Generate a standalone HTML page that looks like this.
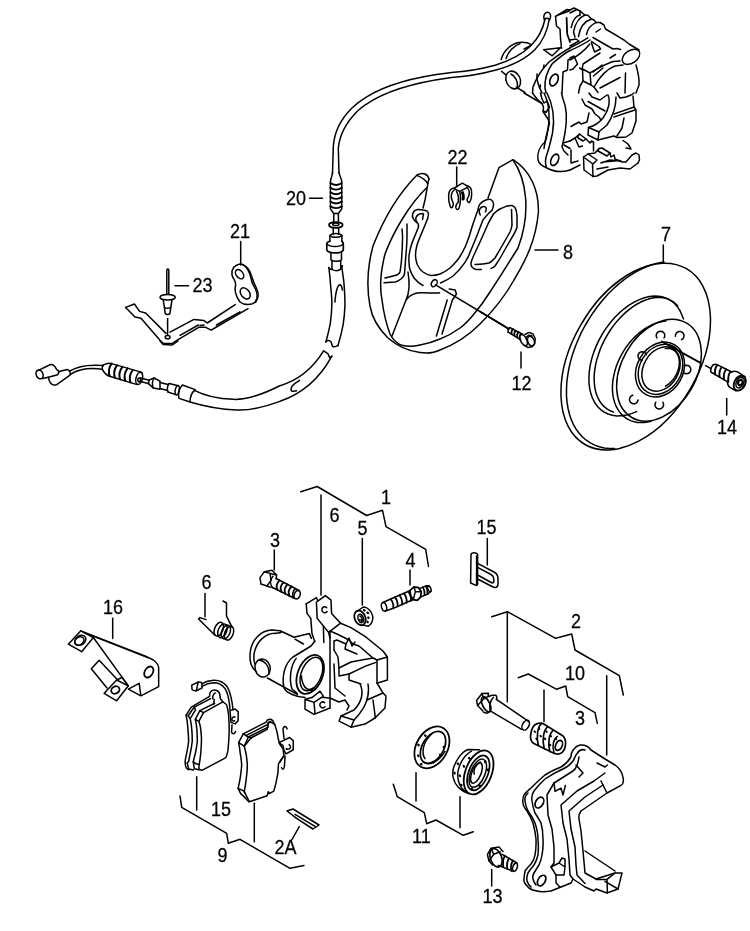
<!DOCTYPE html>
<html>
<head>
<meta charset="utf-8">
<title>Brake parts diagram</title>
<style>
html,body{margin:0;padding:0;background:#fff;}
svg{display:block;}
.d path,.d ellipse,.d line,.d polyline,.d circle,.d rect{fill:none;stroke:#000;stroke-width:1.5;stroke-linecap:round;stroke-linejoin:round;vector-effect:non-scaling-stroke;}
.d .w{fill:#fff;}
.t text{font-family:"Liberation Sans",sans-serif;font-size:18px;fill:#000;stroke:#000;stroke-width:0.25px;}
</style>
</head>
<body>
<svg width="750" height="931" viewBox="0 0 750 931">
<rect x="0" y="0" width="750" height="931" fill="#fff"/>

<!-- LABELS -->
<g class="t" style="opacity:0.999">
<text transform="translate(286 205) scale(1 1.09)">20</text>
<text transform="translate(447.5 163.5) scale(1 1.09)">22</text>
<text transform="translate(230 237.5) scale(1 1.09)">21</text>
<text transform="translate(192.5 292) scale(1 1.09)">23</text>
<text transform="translate(563 258.5) scale(1 1.09)">8</text>
<text transform="translate(511.5 389.5) scale(1 1.09)">12</text>
<text transform="translate(661 241) scale(1 1.09)">7</text>
<text transform="translate(717 433.5) scale(1 1.09)">14</text>
<text transform="translate(381 503.5) scale(1 1.09)">1</text>
<text transform="translate(329.5 522) scale(1 1.09)">6</text>
<text transform="translate(357.5 534.5) scale(1 1.09)">5</text>
<text transform="translate(270 547) scale(1 1.09)">3</text>
<text transform="translate(405.5 567) scale(1 1.09)">4</text>
<text transform="translate(103 614) scale(1 1.09)">16</text>
<text transform="translate(201.5 589) scale(1 1.09)">6</text>
<text transform="translate(211 816) scale(1 1.09)">15</text>
<text transform="translate(217.5 862) scale(1 1.09)">9</text>
<text transform="translate(274.5 854) scale(1 1.09)">2A</text>
<text transform="translate(476.5 534) scale(1 1.09)">15</text>
<text transform="translate(571 628) scale(1 1.09)">2</text>
<text transform="translate(565 679.5) scale(1 1.09)">10</text>
<text transform="translate(575 724.5) scale(1 1.09)">3</text>
<text transform="translate(412 843) scale(1 1.09)">11</text>
<text transform="translate(482.5 903) scale(1 1.09)">13</text>
</g>

<!-- LEADERS AND BRACKETS -->
<g class="d" id="leaders">
<path d="M309.5,198.3H322.5"/>
<path d="M456.7,167V187"/>
<path d="M240.7,241.5V265"/>
<path d="M175,285.7H188.5"/>
<path d="M535,250H558"/>
<path d="M521,352V368"/>
<path d="M663.3,245V262"/>
<path d="M726.7,398.5V415"/>
<path d="M362.3,538.5V605"/>
<path d="M274.3,550V570"/>
<path d="M410,570V585"/>
<path d="M321,495V595"/>
<path d="M300.8,491.7L317.2,486.5L366.6,515.5L382.5,510.3L386,526.7L425.7,549.3L428.5,566.5"/>
<path d="M112.7,618.3V638.5"/>
<path d="M205,593.5V616.7"/>
<path d="M180,796L181.7,807.3L226.7,833.3L228.3,843.3L240,839.3L290,868.3L304,865.5"/>
<path d="M196.7,776.7V810"/>
<path d="M254.3,803.3V841.7"/>
<path d="M299.3,826.7L291.7,840"/>
<path d="M487.3,538.5V565"/>
<path d="M491.7,616.7L507.3,611.7L555.7,638.3L571.7,634L575,650L619.3,675.7L623.3,695"/>
<path d="M507.3,613.3V701.7"/>
<path d="M606.7,675.7V755"/>
<path d="M518.3,677.7L528.3,674L556.7,689.3L565.7,686L567.7,696.7L595,712.7L597.3,723.3"/>
<path d="M544,690V721.7"/>
<path d="M491.7,869.5V886"/>
<path d="M393.3,784.3L397.3,796.7L424.3,812.7L426.7,823.7L436,820L463.3,835.3L473.3,831.7"/>
<path d="M416,772.7V801"/>
<path d="M460,796.7V827.7"/>
</g>

<!-- PARTS -->
<!-- cable upper run (source coords) -->
<g class="d">
<path d="M545.2,18.5C541,38 529,55 495,65.3C470,72 456,72 450,72.7C410,77.3 373,87.3 351.7,108.3C339,121 334,135 333.3,146.7L332.5,173.3"/>
<path d="M549.3,19.5C545.5,42 533,60 495,70.3C470,77 456,77 450,77.7C413,82.7 378,92 357.3,111.3C344.7,124 339.3,137.3 338.3,148.3L339,173.3"/>
<path d="M544.2,19.6C543,16 544.5,12.8 547,12.2C549.6,12 551,14.5 550.5,17C550.3,18.2 550,19 549.5,19.8"/><path d="M544.7,19C546,18.2 548,18.2 549.5,19.6"/>
</g>
<!-- ferrule 20 and fitting: origin (300,165) 7.76x -->
<g class="d" transform="translate(300,165) scale(0.128866)">
<path d="M252,60C250,90 238,105 236,128V340L262,376H298L324,340V128C322,105 308,90 304,60"/>
<path d="M236,140C260,160 300,160 324,140M236,176C260,196 300,196 324,176M236,212C260,232 300,232 324,212M236,248C260,268 300,268 324,248M236,284C260,304 300,304 324,284M236,320C260,340 300,340 324,320" style="stroke-width:1.9"/>
<path d="M262,376V446M298,376V446"/>
<ellipse cx="278" cy="466" rx="53" ry="22" style="stroke-width:1.7"/>
<ellipse cx="278" cy="460" rx="24" ry="10"/>
<path d="M258,488V540M300,488V540"/>
<path d="M232,545C250,528 306,528 325,545V592M232,545V592"/>
<path d="M232,548C255,566 300,566 325,548"/>
<path d="M232,592C215,596 208,604 208,612V660C225,690 320,690 336,660V612C336,604 330,596 325,592" style="stroke-width:1.7"/>
<path d="M208,612C230,640 314,640 336,612"/>
<path d="M240,682V736C258,750 304,750 322,736V682"/>
<path d="M248,746V808C262,824 300,824 316,808V746"/>
<path d="M222,796C240,815 246,812 250,808M316,808C322,800 326,792 330,782"/>
</g>
<!-- boot + lower cable: tile origin (150,200) 3x -->
<g class="d" transform="translate(150,200) scale(0.33333)">
<path d="M536.6,202.6C539,225 541,240 541,247.7C544,275 546,300 545.6,315.3C545,335 543,355 541,369.5C537,392 532,410 527.6,425.9"/>
<path d="M575,198C578,220 581,240 581.7,247.7C584,275 585,300 584.9,315.3C584,338 582,358 579.5,374C575,398 569,420 563.7,437.1"/>
<path d="M527.6,425.9C530,422 532,421 534.4,421.4C538,421 541,423 543.4,425.9C545,431 546,436 547.9,439.4C553,441 558,440 563.7,437.1"/>
<path d="M554.7,306.3C556,290 558,276 561.4,265.7C564,258 567,254 570.5,254.4C574,256 576,262 577.2,270.2"/>
<!-- lower part -->
<path d="M520.8,452.9C492,500 450,540 388,558C340,582 290,600 250,598C200,596 160,585 133,571"/>
<path d="M545.6,468.7C512,530 462,580 390,604C340,622 300,632 260,630C200,628 160,618 120,606"/>
<path d="M520.8,452.9C526,456 531,459 534.4,461.9C536,466 537,470 538.9,473.2C541,472 543,470 545.6,468.7"/>
<path d="M448.6,541C440,546 432,552 426,559C423,564 423,569 424,572.5C429,575 434,574 439.6,572.5"/>
</g>

<!-- cable left end: tile origin (30,350) 5x -->
<g class="d" transform="translate(30,350) scale(0.2)">
<path d="M42,102L100,74C112,70 124,80 132,96L146,108L186,98C198,100 204,112 200,126L132,174C116,178 102,168 96,152L92,136L62,142"/>
<ellipse cx="48" cy="122" rx="17" ry="23" transform="rotate(-25 48 122)"/>
<path d="M92,136L138,124L146,108"/>
<path d="M198,106C230,86 280,70 366,78"/>
<path d="M202,122C235,100 285,86 362,96"/>
<path d="M366,76C380,68 395,64 408,68L560,112"/>
<path d="M362,98C370,112 380,124 394,130L532,172"/>
<path d="M366,76C360,84 360,92 362,98"/>
<path d="M408,68C396,84 392,108 398,130M436,76C422,94 418,118 424,138M462,84C448,102 444,126 450,146M488,92C474,110 470,134 476,154M514,100C500,118 496,142 502,162" style="stroke-width:2"/>
<ellipse cx="546" cy="142" rx="16" ry="31" transform="rotate(15 546 142)"/>
<ellipse cx="546" cy="150" rx="7" ry="10"/>
</g>
<!-- fittings: tile origin (130,360) 5x -->
<g class="d" transform="translate(130,360) scale(0.2)">
<path d="M52,90L96,101M46,106L92,118"/>
<path d="M96,100L120,90L150,106V146L116,140L92,118Z"/>
<path d="M120,90C112,104 110,124 116,140"/>
<path d="M150,112L190,122M150,142L188,152"/>
<path d="M196,118L236,128M190,160L228,173"/>
<path d="M196,118C186,128 184,150 190,160"/>
<ellipse cx="236" cy="151" rx="10" ry="24" transform="rotate(12 236 151)"/>
<path d="M262,125L326,148C310,162 300,188 300,210L245,192C240,170 246,142 262,125Z"/>
</g>

<!-- bracket 21 + rivet 23: tile origin (120,255) 5x -->
<g class="d" transform="translate(120,255) scale(0.2)">
<path d="M28,262L72,245L98,282L128,290L230,392"/>
<path d="M28,262L75,310L105,316L200,426L216,441L260,443L286,426L396,361L426,361L456,376L482,360L640,268"/>
<path d="M200,430L216,448L262,450L290,430"/>
<path d="M250,386L370,322L420,328L436,340L576,248"/>
<ellipse cx="238" cy="411" rx="12" ry="8"/>
<path d="M300,402L392,350M482,350L600,284M400,352L420,350"/>
<path d="M600,45C575,50 556,66 560,100C564,120 582,128 578,150C572,172 578,205 600,235C620,252 660,252 676,235C692,215 686,180 664,146C652,120 656,100 640,75C630,58 615,46 600,45Z"/>
<path d="M612,47C634,56 650,80 656,100C664,125 668,140 682,165C694,190 694,215 678,236"/>
<ellipse cx="598" cy="96" rx="17" ry="26" transform="rotate(-38 598 96)"/>
<ellipse cx="626" cy="192" rx="21" ry="31" transform="rotate(-38 626 192)"/>
<!-- rivet -->
<path d="M234,196V76C234,68 244,68 244,76V196"/>
<ellipse cx="238" cy="211" rx="38" ry="14"/>
<path d="M216,224L222,262L226,292C230,300 246,300 250,292L254,262L260,224"/>
<path d="M222,262C232,268 244,268 254,262"/>
<path d="M238,318V400"/>
</g>

<!-- backing plate 8: tile A origin (360,160) 5x -->
<g class="d" transform="translate(360,160) scale(0.2)">
<!-- outer rim -->
<path d="M345,95C340,70 315,60 285,75C200,160 120,290 65,430C35,540 35,650 50,730C60,790 100,850 140,890C180,925 240,955 300,963C340,968 380,960 400,950C480,920 550,870 600,820C660,760 720,690 770,600C830,500 880,400 892,260C895,150 850,50 765,-2L695,38L640,190"/>
<!-- tip crescent -->
<path d="M285,77C310,88 330,102 338,118L345,95"/>
<!-- face edge -->
<path d="M332,140C250,220 170,350 125,470C100,570 100,650 110,700C120,780 135,830 150,870C165,900 180,915 205,925C240,935 270,932 300,925C340,918 370,908 400,895C440,880 470,862 500,840C530,818 550,795 570,770C600,735 625,700 650,660C690,600 740,520 790,440C820,360 835,280 828,190C822,120 800,50 765,0"/>
<!-- arm right edge -->
<path d="M340,116L325,200L315,240"/>
<!-- left hole -->
<path d="M262.5,285C262,272 264,265 267.5,260C273,252 280,249 287.5,247.5C297,247 306,248 315,250C322,251 329,252 335,255C340,259 342,264 342.5,270C342,279 340,287 337.5,295"/>
<path d="M284,310C280,304 278,297 279,290C282,282 287,276 292.5,272.5C300,269 308,268 315,267.5M317.5,270L312.5,297"/>
<!-- inner U -->
<path d="M337.5,295C330,314 322,332 315,350C304,376 293,400 285,425C280,444 277,462 277.5,480C279,497 282,512 287.5,525C295,540 304,552 315,560C328,569 341,575 355,577.5C370,578 385,575 400,570C418,562 435,552 450,540C466,525 482,508 495,490C508,470 520,448 530,425C540,400 552,365 560,335C570,305 580,275 590,250"/>
<!-- outer U -->
<path d="M262.5,285C266,293 270,300 275,305C280,310 286,314 290,317.5C292,323 293,329 292.5,335C282,362 270,389 260,415C253,437 247,459 245,480C244,500 245,520 247.5,540C252,558 260,575 270,590C283,606 298,618 315,627.5"/>
<path d="M402.5,615C425,606 446,594 465,580C488,560 508,538 525,512C538,492 548,471 555,450C568,420 580,390 590,365C598,342 607,320 615,300C624,288 634,276 645,265"/>
<!-- left spoke ribs -->
<path d="M210,345C212,363 213,382 212.5,400C212,434 210,467 207.5,500C206,520 203,540 200,560C196,570 188,575 175,577.5L125,590"/>
<path d="M235,320V390C234,427 231,463 227.5,500C226,524 224,547 222.5,570C220,580 214,589 205,595C196,602 186,607 175,610L120,614"/>
<!-- lower spoke -->
<path d="M240,560C250,620 245,670 230,700L160,880"/>
<path d="M232,698C250,675 280,665 300,664C340,662 370,668 398,664"/>
<path d="M382,880L436,700M410,870L462,700L482,670L476,650L446,645"/>
<!-- bolt hole + leader -->
<ellipse cx="371" cy="616" rx="13" ry="19" transform="rotate(35 371 616)"/>
<path d="M378,624L745,845"/>
<!-- right hole -->
<path d="M590,250C592,234 596,224 600,220C608,210 622,203 630,200C640,196 648,196 655,198C663,202 667,210 668,220C668,232 664,244 660,252L645,265"/>
<path d="M601,275C597,268 595,258 597,250C600,242 606,236 612,234C620,232 628,234 631,240C632,246 630,254 627,260"/>
<!-- window -->
<path d="M655,542C662,540 670,536 675,530C682,520 688,510 695,500L735,430L770,370C777,358 783,346 785,335V280C784,266 782,252 777.5,242.5C772,233 766,228 760,227.5C752,227 744,228 735,230C722,235 708,240 695,247.5C685,254 676,262 667.5,270C658,286 648,303 640,320L600,410L567.5,480C562,492 557,504 555,515C554,523 556,530 560,535C566,542 573,546 580,547.5L607,548"/>
<path d="M757.5,247.5L760,325C758,338 755,350 750,360L710,430L675,490C666,500 656,509 645,515C625,520 600,522 575,522.5"/>
</g>

<!-- clip 22: tile origin (435,165) 15x -->
<g class="d" transform="translate(435,165) scale(0.066667)" style="stroke-width:1.6">
<path d="M300,338L410,272L482,312V340L370,396L300,362Z"/>
<path d="M300,340C250,345 215,370 207,430C200,500 215,590 235,635C250,650 270,630 274,590C276,560 255,540 248,500C240,450 250,400 290,372"/>
<path d="M322,396C350,440 355,500 350,555C330,575 308,600 312,640C320,675 350,675 362,640C380,580 388,480 372,398"/>
<path d="M482,312C530,320 552,370 550,430C548,490 535,540 515,562C495,565 480,540 482,510C500,490 515,450 515,410C512,380 505,360 488,342"/>
<path d="M400,408C415,440 418,480 410,518C420,528 432,522 436,500C440,465 432,430 420,400"/>
</g>

<!-- bolt 12: tile origin (480,300) 10x -->
<g class="d" transform="translate(480,300) scale(0.1)">
<path d="M0,115L290,290"/>
<path d="M300,276L430,345M282,322L408,398"/>
<path d="M300,276C282,282 276,305 282,322"/>
<path d="M330,290C316,302 312,325 318,342M358,305C344,317 340,340 346,358M386,320C372,332 368,355 374,374M412,336C398,348 394,371 402,392" style="stroke-width:1.7"/>
<ellipse cx="436" cy="402" rx="30" ry="60" transform="rotate(-28 436 402)"/>
<path d="M450,345L490,324L530,340L552,385L548,435L520,468L476,474L446,456"/>
<ellipse cx="510" cy="412" rx="32" ry="50" transform="rotate(-20 510 412)"/>
<path d="M462,372L490,352L520,360"/>
</g>

<!-- disc 7 (source coords) -->
<g class="d">
<ellipse cx="635.7" cy="356.6" rx="101.5" ry="63.4" transform="rotate(-60 635.7 356.6)"/>
<path d="M614.7,448.5L609.4,448.5L604.3,447.9L599.4,446.8L594.7,445.1L590.3,442.9L586.3,440.2L582.5,437.0L579.1,433.3L576.1,429.1L573.4,424.5L571.2,419.4L569.4,414.0L568.0,408.2L567.0,402.1L566.5,395.8L566.5,389.1L566.8,382.3L567.7,375.4L568.9,368.3L570.6,361.1L572.7,353.9L575.2,346.7L578.2,339.5L581.4,332.4L585.1,325.5L589.1,318.8L593.4,312.2L597.9,306.0L602.8,300.0L607.8,294.3L613.1,289.0L618.5,284.1L624.1,279.6L629.8,275.6L635.5,272.1L641.3,269.0L647.0,266.5L652.8,264.4L658.4,263.0L664.0,262.0"/>
<path d="M636.6,411.6L631.5,413.6L626.5,415.0L621.6,415.8L616.8,415.9L612.3,415.3L608.1,414.0L604.2,412.1L600.6,409.6L597.5,406.4L594.8,402.7L592.6,398.5L590.9,393.8L589.7,388.6L589.0,383.1L588.9,377.3L589.3,371.3L590.2,365.1L591.7,358.8L593.7,352.4L596.2,346.1L599.1,339.9L602.4,333.9L606.2,328.1L610.3,322.7L614.7,317.6L619.3,312.9L624.1,308.8L629.1,305.1L634.2,302.1L639.3,299.6L644.4,297.8L649.4,296.6L654.2,296.1L658.9,296.3L663.3,297.1L667.4,298.6L671.2,300.8L674.6,303.5L677.5,306.9L680.1,310.8"/>
<path d="M613.4,412.0L610.3,410.8L607.4,409.2L604.7,407.1L602.3,404.7L600.1,401.8L598.3,398.7L596.8,395.2L595.6,391.4L594.8,387.3L594.3,383.0L594.1,378.4L594.3,373.7L594.9,368.9L595.8,363.9L597.0,358.9L598.6,353.9L600.4,348.8L602.6,343.8L605.1,338.9L607.8,334.2L610.7,329.5L613.9,325.1L617.3,320.9L620.9,317.0L624.6,313.4L628.4,310.1L632.3,307.1L636.3,304.5L640.3,302.3L644.3,300.5L648.3,299.1L652.2,298.1L656.0,297.6L659.7,297.5L663.2,297.8L666.6,298.6L669.7,299.8L672.6,301.4L675.3,303.5L677.7,305.9"/>
<path d="M680.1,310.8L683.5,319.0"/>
<ellipse cx="659.0" cy="370.2" rx="54.6" ry="37.4" transform="rotate(-60 659.0 370.2)"/>
<path d="M651.0,421.3L647.5,422.1L644.1,422.5L640.7,422.6L637.5,422.4L634.3,421.8L631.3,420.9L628.5,419.6L625.8,418.0L623.4,416.1L621.1,413.9L619.1,411.4L617.4,408.6L615.8,405.6L614.6,402.3L613.6,398.9L612.9,395.2L612.5,391.4L612.4,387.4L612.6,383.4L613.1,379.2L613.9,375.1L614.9,370.8L616.2,366.6L617.8,362.5L619.6,358.4L621.7,354.3L624.0,350.4L626.5,346.7L629.2,343.1L632.1,339.7L635.2,336.6L638.3,333.7L641.6,331.0L645.0,328.6L648.4,326.6L651.9,324.8L655.4,323.4L659.0,322.2L662.4,321.5L665.9,321.0"/>
<ellipse cx="660.0" cy="369.5" rx="28.8" ry="23.0" transform="rotate(-60 660.0 369.5)"/>
<ellipse cx="660.5" cy="369.3" rx="26.3" ry="20.8" transform="rotate(-60 660.5 369.3)"/>
<ellipse cx="661.0" cy="369.0" rx="23.5" ry="17.5" transform="rotate(-60 661.0 369.0)"/>
<path d="M665.3,348.6L666.5,348.5L667.6,348.4L668.7,348.5L669.8,348.6L670.8,348.9L671.8,349.2L672.8,349.6L673.7,350.2L674.5,350.8L675.3,351.5L676.1,352.2L676.7,353.1L677.3,354.0L677.9,355.1L678.3,356.1L678.7,357.3L679.0,358.4L679.2,359.7L679.3,361.0L679.4,362.3L679.3,363.6L679.2,365.0L679.0,366.4L678.7,367.8L678.4,369.2L678.0,370.6L677.4,372.0L676.9,373.3L676.2,374.7L675.5,376.0L674.7,377.3L673.9,378.5L673.0,379.7L672.0,380.8L671.0,381.9L670.0,382.9L668.9,383.9L667.8,384.7L666.7,385.5L665.5,386.2"/>
<path d="M656.9,337.9L656.4,336.7L656.2,335.4L656.4,334.1L657.1,332.9L658.0,332.0L659.2,331.4L660.6,331.2L661.9,331.4L663.1,332.0L664.0,333.0L664.6,334.2L664.8,335.5L664.6,336.8L664.0,338.0"/>
<path d="M675.4,336.2L675.5,334.8L676.0,333.6L676.9,332.6L678.0,331.8L679.3,331.5L680.6,331.6L681.9,332.1L682.9,332.9L683.6,334.1L684.0,335.3L683.9,336.7L683.4,337.9L682.6,339.0L681.5,339.7"/>
<path d="M642.1,360.3L640.8,360.0L639.6,359.4L638.7,358.4L638.2,357.2L638.0,355.9L638.2,354.6L638.9,353.4L639.8,352.5L641.0,351.9L642.4,351.7L643.7,351.9L644.9,352.5L645.8,353.5L646.4,354.7"/>
<path d="M684.0,366.0L685.2,365.4L686.6,365.2L687.9,365.4L689.1,366.0L690.0,367.0L690.6,368.2L690.8,369.5L690.6,370.8L690.0,372.0L689.1,373.0L687.9,373.6L686.6,373.8L685.2,373.6L684.0,373.0"/>
<path d="M638.1,400.0L637.7,401.2L637.0,402.4L636.0,403.2L634.7,403.7L633.4,403.8L632.1,403.5L631.0,402.7L630.1,401.7L629.6,400.5L629.5,399.1L629.8,397.9L630.5,396.7L631.5,395.8L632.8,395.3"/>
<path d="M662.9,402.3L663.4,403.5L663.6,404.8L663.3,406.2L662.7,407.3L661.7,408.2L660.5,408.8L659.2,409.0L657.9,408.8L656.7,408.1L655.8,407.2L655.2,406.0L655.0,404.7L655.2,403.4L655.8,402.2"/>
<path d="M661.7,341.5L700,362.7" style="stroke-width:1.9"/>
<path d="M705.5,365.7L711,368.7"/>
</g>

<!-- bolt 14: tile origin (695,350) 13.636x -->
<g class="d" transform="translate(695,350) scale(0.073333)">
<path d="M250,202C268,192 285,192 300,200L500,300"/>
<path d="M250,202C225,225 210,265 216,300L440,430"/>
<path d="M306,204C280,230 268,280 275,334M366,234C340,260 328,310 335,368M426,264C400,290 388,340 395,402M486,294C460,320 448,370 455,436" style="stroke-width:1.9"/>
<path d="M500,300C520,290 550,288 575,296L680,362"/>
<path d="M440,430C445,470 455,495 475,510L556,556"/>
<ellipse cx="610" cy="452" rx="74" ry="108" transform="rotate(28 610 452)" style="stroke-width:1.9"/>
<ellipse cx="614" cy="446" rx="50" ry="76" transform="rotate(28 614 446)"/>
<path d="M596,420L630,404L652,430L640,470L606,484L586,458Z" style="stroke-width:2.2"/>
</g>

<!-- top caliper TL: origin (495,0) 10x -->
<g class="d" transform="translate(495,0) scale(0.1)">
<path d="M62,595C80,520 150,440 240,425C290,420 335,430 365,446"/>
<path d="M110,585C130,520 190,455 250,436"/>
<path d="M290,490L350,460"/>
<ellipse cx="182" cy="800" rx="70" ry="92" transform="rotate(-25 182 800)"/>
<path d="M160,740C200,760 232,810 225,872"/>
<path d="M66,714L106,746M212,872L300,925"/>
<path d="M486,497L655,478L572,558Z"/>
<path d="M605,165L720,95L750,100M632,150L742,110"/>
<path d="M605,165L615,260L650,290L655,380L665,482"/>
<path d="M716,180L722,340L750,420" style="stroke-width:1.8"/>
<path d="M750,480C700,505 640,545 540,620C470,690 410,790 380,870L375,930"/>
<path d="M750,505C710,525 660,560 570,640C520,715 495,800 500,880L510,930"/>
<path d="M490,650L485,682M420,740C412,790 430,850 470,930M455,850L450,880"/>
<ellipse cx="590" cy="800" rx="38" ry="62" transform="rotate(25 590 800)" style="stroke-width:1.7"/>
<path d="M750,590L730,600L725,700L680,720L670,930"/>
</g>
<!-- top caliper TR: origin (570,0) 10x -->
<g class="d" transform="translate(570,0) scale(0.1)">
<path d="M0,100L40,80L100,110V150M0,130L60,100"/>
<path d="M100,150C60,160 25,210 12,275"/>
<path d="M100,112L150,150C100,170 50,230 35,320L50,370"/>
<path d="M150,150L178,152L215,190C150,210 100,270 85,365"/>
<path d="M215,190L240,200L262,226C212,246 175,290 165,345"/>
<path d="M262,226L300,225L340,250L355,290L540,400L590,440L690,500"/>
<ellipse cx="610" cy="568" rx="98" ry="62" transform="rotate(-35 610 568)"/>
<path d="M230,375L430,490L470,485L505,495"/>
<path d="M215,415L290,465L305,490L245,520L215,430"/>
<path d="M260,320L305,290M400,580L455,545"/>
<path d="M300,530L130,640L122,690"/>
<path d="M125,690L200,730L210,850L130,810Z"/>
<path d="M230,720L320,650M235,760L330,680"/>
<path d="M200,730C270,690 350,640 430,615L500,610"/>
<path d="M240,870C300,760 370,690 450,660L530,650"/>
<path d="M210,850L240,870L280,925M300,880L500,775"/>
<path d="M555,730L550,930"/>
<path d="M660,650C680,720 695,800 690,850L660,930"/>
<path d="M0,580L40,560L75,640L30,690L0,700"/>
<path d="M95,680L130,700M130,810L100,860L85,930"/>
<path d="M0,478C60,450 120,415 178,378"/>
<path d="M0,506C70,475 140,440 200,400"/>
<path d="M0,600C80,560 150,500 198,440"/>
<path d="M0,400L60,390L90,410L0,460"/>
</g>
<!-- top caliper BL: origin (495,93) 10x -->
<g class="d" transform="translate(495,93) scale(0.1)">
<path d="M290,0L470,105"/>
<path d="M375,0L420,60L470,105L485,140L480,185L530,260L545,300L520,400L500,490"/>
<path d="M455,0L470,60L490,100L520,80L545,140L510,195L485,180"/>
<path d="M490,0C545,110 555,250 520,420L495,520L490,555"/>
<path d="M520,0C585,130 600,260 575,400C560,470 545,540 520,610C505,650 498,700 515,745"/>
<path d="M665,0L680,60C715,140 725,250 700,400L680,500L670,540L690,580L730,620"/>
<path d="M680,500L750,480M690,520L750,555"/>
<path d="M500,490C450,530 420,600 430,670C440,710 480,735 520,750C580,785 650,800 750,770"/>
<ellipse cx="597" cy="668" rx="35" ry="60" transform="rotate(25 597 668)" style="stroke-width:1.7"/>
</g>
<!-- top caliper BR: origin (570,93) 10x -->
<g class="d" transform="translate(570,93) scale(0.1)">
<path d="M380,20C405,80 390,170 330,250C290,300 240,330 185,345"/>
<path d="M185,345L180,420L280,470L290,390Z"/>
<path d="M460,40C460,130 430,230 370,320L290,388"/>
<path d="M280,470L400,440L440,430L470,445"/>
<path d="M440,210L640,140L660,170V280L620,400L560,440L470,445"/>
<path d="M440,240L650,170M540,250L520,350L470,430"/>
<path d="M630,30L640,140"/>
<path d="M190,0L220,40L300,70L370,20"/>
<path d="M470,0L500,50L560,40L610,20L640,0"/>
<path d="M120,60L150,120L220,160L250,210L290,240L310,270"/>
<path d="M180,85L350,180"/>
<path d="M190,200L170,290L110,310L90,290L10,335"/>
<path d="M0,480L50,450L95,410L160,460L200,500L215,480L235,490V580"/>
<path d="M95,410L75,445L130,480L160,460"/>
<path d="M50,450L90,540L125,530"/>
<path d="M10,570V700L80,680M0,770L100,720"/>
<path d="M135,640L180,610L270,670L230,710Z"/>
<path d="M135,640L140,770L230,835L225,710"/>
<path d="M230,835L270,830L380,770L500,750L600,760L680,700"/>
<path d="M180,610L250,600L290,555L320,550L400,600L410,640L440,620L450,660L520,690L560,690L620,620L660,600L690,620L695,670L680,700"/>
<path d="M290,555L280,580L370,630L400,600"/>
<path d="M310,700L400,670L510,680M330,690L500,675M270,760L380,740"/>
<path d="M530,475L580,510L610,560L560,550"/>
</g>

<!-- caliper 1: origin (245,580) 5x -->
<g class="d" transform="translate(245,580) scale(0.2)">
<!-- cylinder -->
<path d="M135,250C80,250 30,300 25,370C22,410 35,440 55,456"/>
<path d="M150,266C100,266 55,310 45,370C42,395 45,410 50,422"/>
<path d="M135,250L175,254L245,286L322,268L332,292"/>
<path d="M150,268L180,262M250,296L292,320"/>
<ellipse cx="88" cy="440" rx="38" ry="45" transform="rotate(-15 88 440)"/>
<path d="M72,400C100,405 122,430 120,470"/>
<path d="M112,490L185,530L262,572"/>
<!-- flange -->
<path d="M350,305L330,330L240,385C200,415 182,480 195,540C205,565 260,585 300,588"/>
<path d="M256,392C230,425 218,490 235,545L262,568"/>
<!-- bore -->
<ellipse cx="326" cy="472" rx="62" ry="102" transform="rotate(22 326 472)" style="stroke-width:1.8"/>
<ellipse cx="332" cy="470" rx="50" ry="88" transform="rotate(22 332 470)"/>
<path d="M290,520C300,545 320,555 345,540M282,480C285,530 310,560 350,548"/>
<!-- upper lug -->
<path d="M306,119L357,88L364,106L402,78L430,101L433,167L456,192L478,216L418,262L392,230L361,192L357,110"/>
<path d="M306,119L310,167L329,192L335,268L348,306"/>
<path d="M392,230L394,312M418,262L425,292"/>
<path d="M408,138C398,128 384,136 384,150C386,164 400,168 410,158"/>
<!-- centre vertical -->
<path d="M425,255V640"/>
<!-- lower lug -->
<path d="M300,596L345,612L385,586L420,590M300,596V646L345,672L425,640M345,612L350,668M300,596L335,588L375,556L392,582"/>
<path d="M398,614C388,604 374,612 374,626C376,640 390,644 400,634"/>
<!-- body -->
<path d="M478,216L530,238L600,282L690,355L712,385V500L660,516V400L712,385"/>
<path d="M425,255L460,270L520,300L540,320L570,330L640,390L660,400"/>
<path d="M445,350V305L460,300L505,320L500,345L560,370"/>
<path d="M505,320L520,290L535,330L550,310"/>
<path d="M445,350L465,385L470,440V480L520,470L520,500L580,520"/>
<path d="M470,440L530,410L640,390M520,470L600,432L655,412"/>
<path d="M575,520C595,560 585,610 545,650L480,680"/>
<path d="M480,680L470,706L530,736L545,700Z"/>
<path d="M615,520C625,580 605,640 545,700"/>
<path d="M530,736L600,720L650,690L700,640L705,580L690,565L610,600"/>
<path d="M660,516L690,565M640,600L652,690"/>
<path d="M425,590L470,610L500,600L520,630L510,650"/>
<path d="M445,420L450,540L500,580"/>
</g>

<!-- bolt 3: origin (250,555) 7.5x -->
<g class="d" transform="translate(250,555) scale(0.133333)">
<path d="M75,170L108,125L150,138L158,188L128,232L82,218Z"/>
<path d="M108,125L165,115L200,150L196,178M150,138L200,150M128,232L152,242"/>
<path d="M172,160C150,185 150,220 168,246"/>
<path d="M196,176L372,268M166,242L336,326"/>
<ellipse cx="354" cy="298" rx="22" ry="33" transform="rotate(20 354 298)"/>
<path d="M222,190C200,210 196,240 206,262M252,205C230,225 226,255 236,277M282,220C260,240 256,270 266,292M312,236C290,256 286,286 296,308M340,252C320,270 316,300 326,322" style="stroke-width:1.8"/>
</g>

<!-- nut 5 + bleeder 4: origin (340,575) 7.5x -->
<g class="d" transform="translate(340,575) scale(0.133333)">
<ellipse cx="150" cy="322" rx="40" ry="57" transform="rotate(-22 150 322)" style="stroke-width:1.8"/>
<path d="M128,272L175,240C205,240 238,270 246,310C248,340 235,370 212,384L172,376"/>
<ellipse cx="156" cy="326" rx="20" ry="32" transform="rotate(-22 156 326)"/>
<path d="M150,310C165,315 172,335 160,350M145,335L172,340"/>
<path d="M180,262L184,266M206,282L210,286M212,318L214,322M206,350L208,354" style="stroke-width:2.2"/>
<!-- bleeder -->
<ellipse cx="330" cy="238" rx="19" ry="33" transform="rotate(-15 330 238)"/>
<path d="M322,206L380,180L524,118M340,270L400,250L545,186"/>
<path d="M380,180C395,200 402,228 400,250M412,166C427,186 434,214 432,236M446,152C461,172 468,200 466,222M480,138C495,158 502,186 500,208M512,124C527,144 534,172 532,194" style="stroke-width:1.8"/>
<path d="M525,115L555,90L590,95L610,125L605,165L580,190L550,185L530,155Z" style="stroke-width:1.8"/>
<path d="M555,90L565,125L550,185M565,125L610,125"/>
<path d="M600,100L650,80L672,84M610,162L660,142L682,120"/>
<ellipse cx="670" cy="104" rx="11" ry="24" transform="rotate(-20 670 104)"/>
<path d="M622,92C632,108 636,130 634,152M644,84C654,100 658,122 656,144" style="stroke-width:1.7"/>
</g>

<!-- pads: origin (175,670) 5x -->
<g class="d" transform="translate(175,670) scale(0.2)">
<!-- 2A shim -->
<path d="M560,705L590,695L720,775L690,795L608,742Z"/>
<path d="M600,722L700,782"/>
</g>
<!-- left pad detail: origin (180,680) 9.8x -->
<g class="d" transform="translate(180,680) scale(0.102041)">
<path d="M230,320L420,215L455,240C465,270 472,300 475,330C480,390 483,450 482,500C480,570 476,630 470,690C465,720 458,742 450,760L215,885L185,875C184,855 186,838 190,820C196,780 202,740 205,700C209,650 211,605 210,560C208,525 204,490 200,460C196,440 190,420 185,405Z"/>
<path d="M150,385L195,300L230,320M150,385L185,405"/>
<path d="M150,385C158,420 163,450 165,480C168,520 170,560 170,600C165,645 158,685 150,720C143,750 136,775 130,800L140,870L185,880"/>
<path d="M130,800L150,818L188,828"/>
<path d="M195,300L340,228"/>
<path d="M80,350L140,265L300,182M140,265L152,292L100,378"/>
<path d="M80,350L100,378C108,415 113,450 115,480C119,520 121,560 120,600C115,645 108,685 100,720C94,750 89,775 85,800L70,812L85,872L132,882"/>
<path d="M60,345L110,265L290,160C288,140 292,125 300,115C312,102 335,96 355,100C372,105 384,118 390,140L396,184L420,214"/>
<path d="M60,345C68,385 73,420 75,450C80,500 84,550 85,600C80,645 72,685 65,720C58,750 52,775 50,800C50,825 54,845 60,860L85,880"/>
<path d="M322,184C318,160 322,140 345,126M330,240L336,190"/>
<!-- sensor + wire -->
<path d="M115,50L180,20C198,18 212,24 216,34V78L160,105C140,108 126,104 118,92Z"/>
<path d="M180,20C170,40 170,70 160,105"/>
<path d="M216,36C250,15 290,4 330,2C380,0 430,25 460,62C485,100 500,160 510,220L520,292"/>
<path d="M216,62C250,42 290,30 330,28C375,28 415,50 440,82C462,115 476,170 484,230L490,292"/>
<path d="M490,300L540,285L570,310V400L540,430L500,415Z"/>
<path d="M538,362C524,358 510,368 508,384C510,400 524,406 536,400"/>
<path d="M510,440L505,510C510,530 535,535 545,505"/>
</g>
<!-- right pad detail: origin (232,712) 9.8x -->
<g class="d" transform="translate(232,712) scale(0.102041)">
<path d="M185,255L345,170L355,105L385,100L420,125L440,190L455,270L470,320L500,360L510,430L480,470L455,510L450,600L430,700L410,775L365,800L355,780L345,820L170,880L130,800L120,780C130,735 136,690 140,650C146,605 150,560 150,520C148,485 144,450 140,420C134,390 127,360 120,335Z"/>
<path d="M120,335L160,245L190,255M160,245L350,150"/>
<path d="M65,300L110,215L335,100L345,80C355,72 365,70 375,70C385,72 394,78 400,85L420,125"/>
<path d="M65,300L120,335M110,215L160,245M135,232L342,126"/>
<path d="M65,300C72,335 77,370 80,400C88,440 93,480 95,520C92,565 86,610 80,650C74,685 66,720 60,750L85,800L110,822L165,880"/>
<path d="M60,750L110,770L125,792"/>
<path d="M350,150L355,105C360,98 368,95 376,96"/>
<path d="M460,300L565,250L600,280V370L530,410L510,380L500,330Z"/>
<path d="M560,320C572,328 576,340 572,352C562,366 545,368 530,360"/>
<path d="M510,260L500,170C502,150 512,140 522,142C532,146 538,155 540,166"/>
<path d="M520,430L515,520C512,545 505,560 498,560C492,558 487,552 485,545M500,440L470,490"/>
</g>

<!-- bracket 16: origin (55,620) 6x -->
<g class="d" transform="translate(55,620) scale(0.166667)">
<path d="M80,145L155,65L230,105L160,190Z"/>
<ellipse cx="152" cy="122" rx="36" ry="27" transform="rotate(-35 152 122)"/>
<ellipse cx="146" cy="126" rx="30" ry="22" transform="rotate(-35 146 126)"/>
<path d="M155,65L540,215L590,240C610,255 620,268 622,285V400L515,455L440,415L505,380L515,452"/>
<path d="M190,82L556,226" />
<path d="M230,105L440,395"/>
<ellipse cx="563" cy="312" rx="24" ry="36" transform="rotate(32 563 312)" style="stroke-width:1.8"/>
<path d="M295,440L370,360L440,395L370,485Z"/>
<ellipse cx="362" cy="420" rx="26" ry="21" transform="rotate(-30 362 420)" style="stroke-width:1.8"/>
<path d="M370,360L402,345L440,395"/>
<path d="M312,408L218,292L265,242L372,356"/>
</g>

<!-- spring 6: origin (185,590) 10x -->
<g class="d" transform="translate(185,590) scale(0.1)" style="stroke-width:1.6">
<path d="M210,296L150,276L136,290L300,452"/>
<path d="M380,110L415,130V262L470,372"/>
<ellipse cx="338" cy="392" rx="42" ry="72" transform="rotate(22 338 392)"/>
<ellipse cx="374" cy="408" rx="42" ry="72" transform="rotate(22 374 408)"/>
<ellipse cx="408" cy="420" rx="42" ry="72" transform="rotate(22 408 420)"/>
<ellipse cx="440" cy="432" rx="42" ry="72" transform="rotate(22 440 432)"/>
</g>

<!-- clip 15: origin (455,540) 10x -->
<g class="d" transform="translate(455,540) scale(0.1)" style="stroke-width:1.6">
<path d="M160,142C170,125 210,122 226,142V440L216,456L156,430Z"/>
<path d="M216,160V452"/>
<path d="M230,236L390,320C415,335 428,355 430,380V450C425,472 405,480 380,470L226,390"/>
<path d="M230,276L360,345C378,355 386,368 388,385V415C385,430 375,432 362,425L226,350"/>
</g>

<!-- guide bolt + sleeve 10: origin (470,680) 6.818x -->
<g class="d" transform="translate(470,680) scale(0.146667)">
<path d="M124,112L126,90L82,92L45,140L52,174L88,212"/>
<path d="M82,92L92,130L52,174M92,130L124,112"/>
<ellipse cx="110" cy="166" rx="25" ry="56" transform="rotate(-25 110 166)" style="stroke-width:1.7"/>
<path d="M128,112L150,104L176,104C184,112 184,124 180,134M92,220L118,226C130,222 136,216 138,210"/>
<path d="M160,118C138,140 128,180 138,210"/>
<path d="M180,132L402,284M138,210L352,336"/>
<ellipse cx="380" cy="308" rx="22" ry="36" transform="rotate(28 380 308)"/>
<!-- sleeve -->
<path d="M448,302C470,292 485,292 500,298L632,380C648,395 655,420 650,450C645,480 625,505 600,506L572,500L432,432C415,418 410,390 415,365C420,335 432,312 448,302Z" style="stroke-width:1.7"/>
<path d="M488,296C462,320 450,380 466,446M528,320C502,344 490,404 506,468M566,344C540,368 528,428 544,488" style="stroke-width:1.7"/>
<ellipse cx="606" cy="446" rx="22" ry="36" transform="rotate(25 606 446)" style="stroke-width:1.7"/>
<path d="M596,384C570,400 556,450 574,498"/>
<path d="M440,350l3,4M470,330l3,4M452,400l3,4M480,380l3,4M510,400l3,4M520,350l3,4M545,440l3,4M550,380l3,4M585,400l3,4" style="stroke-width:2"/>
</g>

<!-- seals 11: origin (405,730) 7.5x -->
<g class="d" transform="translate(405,730) scale(0.133333)">
<ellipse cx="202" cy="130" rx="168" ry="117" transform="rotate(-60 202 130)" style="stroke-width:1.8"/>
<ellipse cx="210" cy="130" rx="130" ry="80" transform="rotate(-60 210 130)" style="stroke-width:1.7"/>
<path d="M150,215C120,170 135,90 200,30M135,240C180,275 250,240 300,160"/>
<path d="M100,110l3,5M98,190l3,5M150,40l4,4M210,240l4,4M262,185l4,4M290,128l3,5M120,255l4,3" style="stroke-width:2.2"/>
<!-- cup seal -->
<ellipse cx="552" cy="318" rx="173" ry="98" transform="rotate(-68 552 318)" style="stroke-width:1.8"/>
<path d="M560,148L472,146C430,160 385,220 365,280C350,330 360,390 400,430C425,455 450,470 480,478"/>
<path d="M498,158C440,190 395,270 395,340C398,400 420,440 452,462"/>
<ellipse cx="550" cy="322" rx="138" ry="72" transform="rotate(-68 550 322)" style="stroke-width:1.7"/>
<ellipse cx="546" cy="324" rx="112" ry="54" transform="rotate(-68 546 324)"/>
<ellipse cx="536" cy="322" rx="82" ry="34" transform="rotate(-68 536 322)"/>
<path d="M520,330C510,300 530,260 565,240"/>
<path d="M395,250l3,5M370,320l3,5M410,340l3,5M440,270l3,5M480,210l4,4M420,410l4,4M500,440l4,3M560,420l4,-3M620,300l3,-5M600,240l3,-4" style="stroke-width:2.2"/>
</g>

<!-- carrier 2 + bolt 13: origin (485,735) 5x -->
<g class="d" transform="translate(485,735) scale(0.2)">
<path d="M430,110C428,85 450,55 475,50C500,48 520,60 530,75L600,120L650,150C672,165 690,190 692,230C690,245 685,250 680,252L610,290L480,380C470,395 468,410 470,420L480,480L490,580L500,690L555,720L650,690L685,690L665,770L610,790L555,770L545,780L500,760L440,720L430,740L380,760L330,780C300,785 275,785 260,780C235,775 220,768 215,760C200,745 192,730 195,720C195,700 200,690 200,680C210,665 220,655 230,645C242,630 248,615 250,600C256,570 256,545 255,520C252,490 246,462 240,440C230,415 220,395 210,380C198,365 190,350 190,340C188,325 190,310 195,300C205,285 218,275 230,265C255,240 278,218 300,200C328,182 355,170 380,160C400,148 418,130 430,110Z"/>
<path d="M215,290C200,305 198,320 200,330C202,350 208,365 215,380C230,400 242,420 250,440C260,470 265,495 265,520C268,550 268,575 265,600C260,620 254,636 245,650C232,665 222,678 215,690C208,705 208,718 210,730C215,745 222,755 230,760"/>
<path d="M500,75C485,70 470,78 462,90C450,105 448,118 440,130C425,150 408,162 390,170C355,185 325,202 300,220C278,240 260,260 245,280C235,295 232,312 235,330C238,352 243,372 250,390C262,408 272,424 280,440C288,468 290,495 290,520C292,550 290,575 285,600C282,620 276,636 270,650C260,665 252,678 245,690C238,702 238,712 240,720C244,735 250,744 255,750"/>
<ellipse cx="272" cy="338" rx="19" ry="29" transform="rotate(30 272 338)" style="stroke-width:1.7"/>
<ellipse cx="283" cy="728" rx="18" ry="29" transform="rotate(30 283 728)" style="stroke-width:1.7"/>
<path d="M470,110C468,125 465,140 460,150C455,165 448,175 440,180L345,240L310,300L315,400L335,470L345,560L345,640L330,660L355,700L355,740L375,760"/>
<path d="M345,240L350,282L380,266L390,300L402,252"/>
<path d="M600,190L545,230L460,280L380,350L390,440L410,520L420,620L425,700L440,720"/>
<path d="M590,250L500,310L420,380L430,470L450,560L455,650L460,700L500,742"/>
<path d="M455,150L490,190L470,210M560,140L600,160L612,150M580,230L610,290"/>
<path d="M330,660L370,640L400,660L395,700L355,700M370,640L385,615L400,620L400,660"/>
<path d="M500,580L650,680M650,690L610,722L555,722M610,722L612,790M600,732L665,770"/>
<!-- bolt 13 -->
<ellipse cx="55" cy="614" rx="28" ry="48" transform="rotate(-20 55 614)" style="stroke-width:1.7"/>
<path d="M12,598L30,566L70,560L90,582M12,598L20,630L38,650M30,566L44,596L20,630M44,596L76,584"/>
<path d="M84,596L160,640M66,652L142,682"/>
<ellipse cx="150" cy="661" rx="11" ry="21" transform="rotate(20 150 661)"/>
<path d="M100,604C90,620 88,640 92,660M120,616C110,632 108,652 112,670M140,628C130,644 128,664 132,680" style="stroke-width:1.8"/>
</g>



</svg>
</body>
</html>
